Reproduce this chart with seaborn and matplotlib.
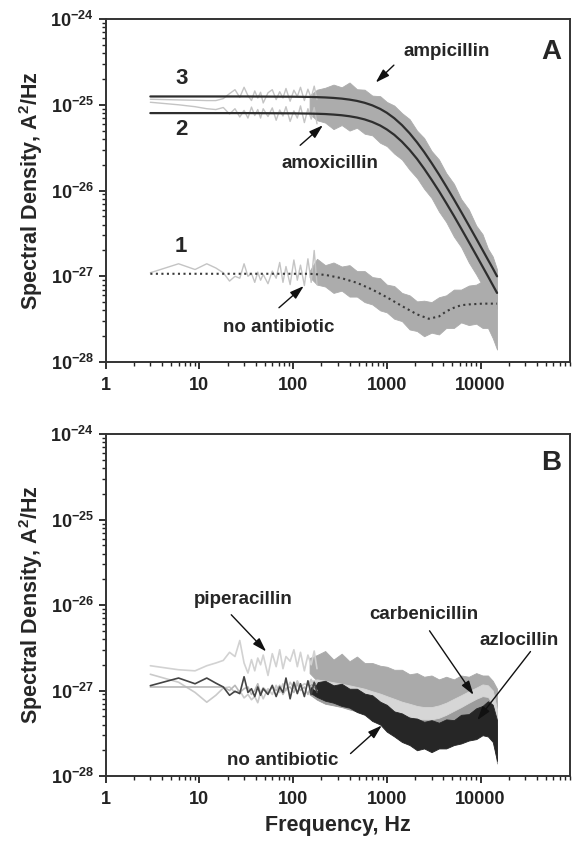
import numpy as np
import pandas as pd
import seaborn as sns
import matplotlib.pyplot as plt
from matplotlib.ticker import FixedLocator, LogLocator, FuncFormatter, NullFormatter

# ---- data (spectral density in units of 1e-27 A^2/Hz) ----
f_lo = [3, 6, 9, 12, 15, 18, 21, 24, 27, 30, 33, 36, 39, 42, 45, 48, 54, 60, 66, 72,
        78, 84, 93, 102, 111, 120, 132, 144, 156, 168, 180]
f_band = [150, 180, 220, 270, 330, 400, 480, 580, 700, 850, 1000, 1200, 1450, 1750,
          2100, 2500, 3000, 3600, 4300, 5200, 6200, 7500, 9000, 10500, 12000, 13500, 15000]

# panel A, raw spectra at low frequency
amp_lo = [116, 114, 113, 112, 112, 118, 135, 150, 122, 160, 128, 112, 145, 120, 140, 105,
          138, 150, 115, 142, 120, 155, 110, 148, 125, 160, 112, 152, 120, 165, 115]
amox_lo = [107, 100, 95, 90, 88, 93, 78, 90, 72, 86, 70, 94, 75, 88, 70, 90,
           73, 92, 66, 87, 74, 95, 64, 85, 70, 97, 62, 90, 68, 93, 60]
noab_a_lo = [1.10, 1.40, 1.20, 1.40, 1.25, 1.10, 0.88, 1.00, 0.95, 1.40, 1.00, 1.08, 0.85,
             1.12, 0.90, 1.05, 0.82, 1.15, 0.95, 1.45, 0.85, 1.30, 0.80, 1.55, 0.90, 1.35,
             0.78, 1.60, 0.85, 2.00, 0.80]

# panel A, envelope of the dense spectra
amp_band_hi = [128, 150, 158, 172, 160, 182, 152, 150, 128, 126, 108, 98, 80, 68, 50, 41,
               29, 23, 16, 12, 8.0, 6.0, 3.9, 3.1, 2.1, 1.7, 1.2]
amp_band_lo = [78, 66, 62, 52, 58, 50, 54, 46, 44, 36, 33, 27, 23, 17.5, 14, 10.5,
               8.2, 5.7, 4.3, 2.9, 2.2, 1.45, 1.05, 0.78, 0.62, 0.48, 0.42]
noab_a_hi = [1.15, 1.6, 1.35, 1.45, 1.30, 1.35, 1.15, 1.15, 0.98, 0.95, 0.80, 0.77, 0.64,
             0.60, 0.51, 0.52, 0.50, 0.57, 0.60, 0.70, 0.70, 0.78, 0.80, 0.88, 0.82, 0.82, 0.72]
noab_a_lw = [0.98, 0.80, 0.76, 0.64, 0.68, 0.58, 0.58, 0.50, 0.47, 0.40, 0.38, 0.32, 0.30,
             0.24, 0.23, 0.20, 0.22, 0.21, 0.25, 0.25, 0.29, 0.27, 0.28, 0.25, 0.25, 0.19, 0.14]

# panel A, fitted curves
fit_f = [3, 30, 100] + f_band
fit3 = [125, 125, 124.3, 123.5, 122.8, 121.8, 120.2, 118, 114.9, 111, 105.5, 98.5, 89.5,
        80.7, 69.8, 58, 46.6, 36.5, 28.2, 21, 15.4, 11.2, 7.9, 5.66, 3.92, 2.75, 2.03,
        1.56, 1.24, 1.0]
fit2 = [80, 80, 79.5, 79, 78.6, 78, 76.9, 75.5, 73.5, 71, 67.5, 63, 57.3, 51.6, 44.7,
        37.1, 29.8, 23.4, 18.0, 13.4, 9.86, 7.17, 5.06, 3.62, 2.51, 1.76, 1.30, 1.0, 0.79, 0.64]
fitn_f = [3, 30, 100, 150, 220, 330, 480, 700, 1000, 1450, 2100, 2800, 3600, 4300, 5200,
          6200, 7500, 10500, 15000]
fitn = [1.07, 1.07, 1.07, 1.07, 1.04, 0.95, 0.84, 0.70, 0.57, 0.45, 0.36, 0.32, 0.34,
        0.39, 0.43, 0.46, 0.47, 0.48, 0.48]

# panel B, raw spectra at low frequency
noab_b_lo = [1.14, 1.40, 1.20, 1.40, 1.22, 1.10, 0.88, 0.98, 0.92, 1.45, 0.95, 1.05, 0.85,
             1.10, 0.88, 1.05, 0.90, 1.15, 0.85, 1.10, 0.95, 1.40, 0.80, 1.25, 0.92, 1.20,
             0.85, 1.30, 0.90, 1.25, 0.95]
pip_lo = [1.95, 1.75, 1.70, 1.95, 2.10, 2.25, 2.80, 2.50, 3.85, 2.10, 1.60, 2.30, 1.70,
          2.40, 2.00, 2.60, 1.50, 2.70, 1.90, 3.00, 1.80, 2.50, 2.20, 3.00, 1.90, 2.80,
          1.70, 2.60, 2.00, 2.90, 1.80]
carb_lo = [1.55, 1.25, 0.95, 0.73, 0.88, 1.07, 1.10, 0.95, 1.00, 0.82, 0.90, 0.78, 0.85,
           0.72, 0.95, 0.80, 1.05, 0.90, 1.15, 0.95, 1.20, 1.00, 1.25, 1.05, 1.30, 1.10,
           1.20, 1.15, 1.35, 1.10, 1.25]
azlo_lo = [1.10, 1.10, 1.10, 1.10, 1.10, 1.10, 1.00, 1.15, 0.95, 1.05, 1.10, 0.90, 1.00,
           1.20, 0.92, 1.08, 0.95, 1.10, 1.00, 1.15, 0.90, 1.05, 1.10, 0.95, 1.20, 1.00,
           1.10, 0.90, 1.15, 1.05, 1.00]

# panel B, envelopes
pip_hi = [2.4, 2.6, 2.9, 2.3, 2.7, 2.2, 2.5, 2.1, 2.1, 1.95, 1.9, 1.75, 1.75, 1.55, 1.6, 1.45,
          1.5, 1.35, 1.45, 1.35, 1.50, 1.45, 1.60, 1.50, 1.50, 1.30, 1.05]
pip_lw = [1.6, 1.3, 1.15, 1.05, 1.0, 0.95, 0.9, 0.85, 0.8, 0.75, 0.7, 0.65, 0.6, 0.55, 0.52,
          0.5, 0.48, 0.5, 0.52, 0.55, 0.58, 0.62, 0.65, 0.65, 0.6, 0.45, 0.25]
azlo_hi = [1.2, 1.25, 1.2, 1.15, 1.1, 1.05, 1.0, 0.95, 0.9, 0.85, 0.8, 0.75, 0.7, 0.66, 0.63,
           0.61, 0.6, 0.61, 0.63, 0.67, 0.7, 0.75, 0.8, 0.85, 0.9, 0.85, 0.6]
azlo_lw = [0.9, 0.78, 0.7, 0.67, 0.64, 0.6, 0.57, 0.54, 0.5, 0.47, 0.45, 0.42, 0.39, 0.36,
           0.34, 0.33, 0.33, 0.34, 0.35, 0.36, 0.37, 0.38, 0.4, 0.4, 0.38, 0.3, 0.14]
carb_hi = [1.3, 1.35, 1.3, 1.25, 1.2, 1.15, 1.1, 1.05, 0.98, 0.92, 0.86, 0.8, 0.74, 0.7, 0.66,
           0.64, 0.64, 0.67, 0.72, 0.8, 0.88, 0.98, 1.08, 1.18, 1.15, 1.0, 0.6]
carb_lw = [1.1, 0.97, 0.93, 0.9, 0.86, 0.82, 0.78, 0.74, 0.7, 0.65, 0.61, 0.57, 0.53, 0.5,
           0.47, 0.46, 0.46, 0.48, 0.52, 0.58, 0.64, 0.72, 0.8, 0.86, 0.84, 0.7, 0.4]
noab_b_hi = [1.15, 1.25, 1.30, 1.15, 1.20, 1.05, 1.05, 0.92, 0.88, 0.74, 0.68, 0.57, 0.54,
             0.48, 0.47, 0.43, 0.45, 0.42, 0.46, 0.45, 0.52, 0.53, 0.62, 0.66, 0.75, 0.68, 0.45]
noab_b_lw = [0.95, 0.84, 0.76, 0.72, 0.66, 0.63, 0.56, 0.52, 0.44, 0.40, 0.33, 0.29, 0.25,
             0.23, 0.20, 0.21, 0.19, 0.21, 0.21, 0.23, 0.24, 0.26, 0.27, 0.30, 0.29, 0.25, 0.15]

U = 1e-27

sns.set_theme(style='ticks')
plt.rcParams['font.family'] = ['Liberation Sans', 'DejaVu Sans']
plt.rcParams['font.weight'] = 'bold'
plt.rcParams['mathtext.fontset'] = 'custom'
plt.rcParams['mathtext.rm'] = 'Liberation Sans:bold'
plt.rcParams['mathtext.bf'] = 'Liberation Sans:bold'
plt.rcParams['mathtext.default'] = 'bf'

fig = plt.figure(figsize=(5.74, 8.42), dpi=100)
axA = fig.add_axes([0.184, 0.570, 0.809, 0.4074])
axB = fig.add_axes([0.184, 0.0784, 0.809, 0.406])


def line(ax, x, y, color, lw=1.0, ls='-'):
    sns.lineplot(x=x, y=np.array(y) * U, ax=ax, color=color, lw=lw, linestyle=ls,
                 estimator=None, sort=False)


def band(ax, lo, hi, color):
    ax.fill_between(f_band, np.array(lo) * U, np.array(hi) * U, color=color, lw=0.6,
                    edgecolor=color)


def style(ax):
    ax.set_xscale('log')
    ax.set_yscale('log')
    ax.set_xlim(1, 9e4)
    ax.set_ylim(1e-28, 1e-24)
    ax.xaxis.set_major_locator(FixedLocator([1, 10, 100, 1000, 10000]))
    ax.xaxis.set_major_formatter(FuncFormatter(lambda v, p: '%d' % v))
    ax.xaxis.set_minor_locator(LogLocator(base=10, subs=np.arange(2, 10), numticks=20))
    ax.xaxis.set_minor_formatter(NullFormatter())
    ax.yaxis.set_major_locator(FixedLocator([1e-28, 1e-27, 1e-26, 1e-25, 1e-24]))
    ax.yaxis.set_major_formatter(FuncFormatter(lambda v, p: r'$10^{%d}$' % round(np.log10(v))))
    ax.yaxis.set_minor_locator(LogLocator(base=10, subs=np.arange(2, 10), numticks=20))
    ax.yaxis.set_minor_formatter(NullFormatter())
    ax.tick_params(which='major', direction='out', length=5, width=1.3, labelsize=13,
                   colors='#222222', top=False, right=False)
    ax.tick_params(axis='x', which='major', pad=6)
    ax.tick_params(which='minor', direction='out', length=3, width=1.0, colors='#222222',
                   top=False, right=False)
    for s in ax.spines.values():
        s.set_color('#333333')
        s.set_linewidth(1.4)
    ax.set_ylabel(r'Spectral Density, A$^{2}$/Hz', fontsize=15.5, fontweight='bold', labelpad=4)
    ax.set_xlabel('')


arrow = dict(arrowstyle='-|>,head_length=0.7,head_width=0.22', color='#111111', lw=1.0,
             shrinkA=0, shrinkB=0)

# ---------- panel A ----------
band(axA, amp_band_lo, amp_band_hi, '#acacac')
band(axA, noab_a_lw, noab_a_hi, '#acacac')
line(axA, f_lo, amp_lo, '#c4c4c4', 1.0)
line(axA, f_lo, amox_lo, '#c4c4c4', 1.0)
line(axA, f_lo, noab_a_lo, '#c4c4c4', 1.0)
line(axA, fit_f, fit3, '#2e2e2e', 1.6)
line(axA, fit_f, fit2, '#2e2e2e', 1.6)
line(axA, fitn_f, fitn, '#3a3a3a', 1.5, ':')
style(axA)

axA.text(6.4, 2.0e-25, '3', fontsize=16, fontweight='bold', ha='center', va='center')
axA.text(6.4, 5.2e-26, '2', fontsize=16, fontweight='bold', ha='center', va='center')
axA.text(6.4, 2.2e-27, '1', fontsize=16, fontweight='bold', ha='center', va='center')
axA.text(0.959, 0.905, 'A', transform=axA.transAxes, fontsize=20, fontweight='bold',
         ha='center', va='center')
axA.text(4385, 4.2e-25, 'ampicillin', fontsize=13.5, fontweight='bold', ha='center', va='center')
axA.annotate('', xy=(762, 1.82e-25), xytext=(1190, 2.9e-25), arrowprops=arrow)
axA.text(250, 2.04e-26, 'amoxicillin', fontsize=13.5, fontweight='bold', ha='center', va='center')
axA.annotate('', xy=(208, 5.77e-26), xytext=(119, 3.37e-26), arrowprops=arrow)
axA.text(70.7, 2.54e-28, 'no antibiotic', fontsize=13.5, fontweight='bold', ha='center', va='center')
axA.annotate('', xy=(130, 7.7e-28), xytext=(70.7, 4.3e-28), arrowprops=arrow)

# ---------- panel B ----------
band(axB, pip_lw, pip_hi, '#aaaaaa')
band(axB, azlo_lw, azlo_hi, '#9c9c9c')
band(axB, carb_lw, carb_hi, '#d6d6d6')
band(axB, noab_b_lw, noab_b_hi, '#262626')
line(axB, f_lo, pip_lo, '#d2d2d2', 1.2)
line(axB, f_lo, carb_lo, '#cacaca', 1.2)
line(axB, f_lo, azlo_lo, '#b8b8b8', 1.2)
line(axB, f_lo, noab_b_lo, '#444444', 1.2)
style(axB)
axB.set_xlabel('Frequency, Hz', fontsize=15.5, fontweight='bold', labelpad=5)

axB.text(0.96, 0.917, 'B', transform=axB.transAxes, fontsize=20, fontweight='bold',
         ha='center', va='center')
axB.text(29.5, 1.16e-26, 'piperacillin', fontsize=13.5, fontweight='bold', ha='center', va='center')
axB.annotate('', xy=(51.6, 2.86e-27), xytext=(21.9, 7.7e-27), arrowprops=arrow)
axB.text(2490, 7.7e-27, 'carbenicillin', fontsize=13.5, fontweight='bold', ha='center', va='center')
axB.annotate('', xy=(8410, 8.9e-28), xytext=(2856, 5.0e-27), arrowprops=arrow)
axB.text(26000, 3.9e-27, 'azlocillin', fontsize=13.5, fontweight='bold', ha='center', va='center')
axB.annotate('', xy=(9220, 4.5e-28), xytext=(34100, 2.86e-27), arrowprops=arrow)
axB.text(77.3, 1.5e-28, 'no antibiotic', fontsize=13.5, fontweight='bold', ha='center', va='center')
axB.annotate('', xy=(884, 3.9e-28), xytext=(410, 1.83e-28), arrowprops=arrow)

fig.savefig('out.png', dpi=100)
